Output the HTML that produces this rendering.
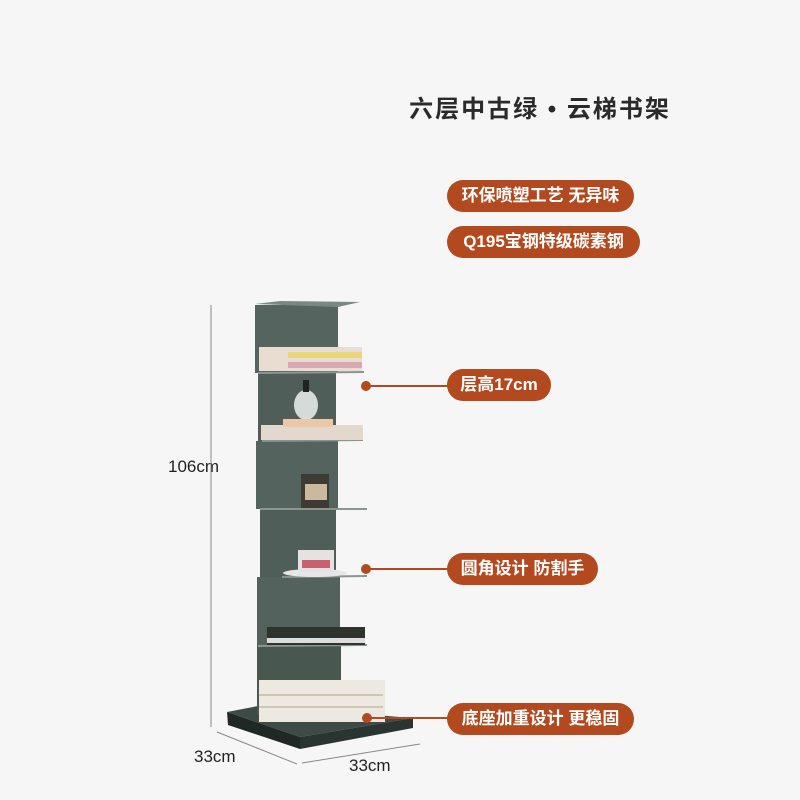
<!DOCTYPE html>
<html><head><meta charset="utf-8"><style>
html,body{margin:0;padding:0;background:#f6f6f6;}
body{width:800px;height:800px;position:relative;overflow:hidden;font-family:"Liberation Sans","Noto Sans CJK SC",sans-serif;}
.t{position:absolute;left:390px;top:89px;width:300px;text-align:center;font-size:24px;font-weight:bold;color:#2a2a2a;letter-spacing:2px;white-space:nowrap;}
.p{position:absolute;background:#b34a1f;color:#fff;border-radius:16px;height:32px;line-height:32px;font-size:17px;font-weight:bold;text-align:center;box-sizing:border-box;white-space:nowrap;}
.l{position:absolute;font-size:17px;color:#222;}
</style></head><body>
<div class="t">六层中古绿 • 云梯书架</div>
<div class="p" style="left:447px;top:180px;width:187px;">环保喷塑工艺 无异味</div>
<div class="p" style="left:447px;top:226px;width:193px;">Q195宝钢特级碳素钢</div>
<div class="p" style="left:447px;top:369px;width:104px;">层高17cm</div>
<div class="p" style="left:447px;top:553px;width:151px;">圆角设计 防割手</div>
<div class="p" style="left:447px;top:703px;width:187px;">底座加重设计 更稳固</div>
<div class="l" style="left:168px;top:457px;">106cm</div>
<div class="l" style="left:194px;top:747px;">33cm</div>
<div class="l" style="left:349px;top:756px;">33cm</div>
<svg width="800" height="800" style="position:absolute;left:0;top:0">
<line x1="211" y1="305" x2="211" y2="727" stroke="#888" stroke-width="1"/>
<line x1="217" y1="732" x2="297" y2="764" stroke="#888"/>
<line x1="302" y1="763" x2="420" y2="744" stroke="#888"/>
<polygon points="227,712 258,706 413,718 300,737" fill="#3d4a45"/>
<polygon points="227,712 300,737 300,749 228,725" fill="#1f2825"/>
<polygon points="300,737 413,718 413,728 300,749" fill="#2a3430"/>
<rect x="255" y="305" width="83" height="68" fill="#55645f"/>
<rect x="258" y="373" width="78" height="68" fill="#4f5e59"/>
<rect x="256" y="441" width="82" height="68" fill="#54635e"/>
<rect x="260" y="509" width="76" height="68" fill="#4f5e59"/>
<rect x="257" y="577" width="83" height="68" fill="#53625d"/>
<rect x="257" y="645" width="84" height="70" fill="#48574f"/>
<polygon points="255,304 280,301 360,302 338,307" fill="#7a8782"/>
<g stroke="#8a9590" stroke-width="2">
<line x1="258" y1="373" x2="364" y2="372"/>
<line x1="262" y1="441" x2="363" y2="440"/>
<line x1="260" y1="509" x2="367" y2="509"/>
<line x1="282" y1="577" x2="367" y2="576"/>
<line x1="258" y1="646" x2="367" y2="645"/>
</g>
<rect x="259" y="347" width="103" height="24" fill="#e8ddd0"/>
<rect x="288" y="352" width="74" height="6" fill="#e8d77a"/>
<rect x="288" y="362" width="74" height="6" fill="#d9a9b5"/>
<ellipse cx="306" cy="405" rx="12" ry="15" fill="#d5dbd8"/>
<rect x="303" y="380" width="6" height="12" fill="#222"/>
<rect x="261" y="425" width="102" height="15" fill="#e2d8cb"/>
<rect x="283" y="419" width="50" height="8" fill="#e8c8a8"/>
<rect x="301" y="474" width="28" height="34" fill="#3e3a34"/>
<rect x="305" y="484" width="22" height="16" fill="#cbb99f"/>
<ellipse cx="315" cy="573" rx="32" ry="4" fill="#e6e6e6"/>
<rect x="298" y="550" width="36" height="22" fill="#e7e2e2"/>
<rect x="302" y="560" width="28" height="8" fill="#c8606f"/>
<rect x="267" y="627" width="98" height="18" fill="#2e332d"/>
<rect x="267" y="638" width="98" height="5" fill="#ddd"/>
<rect x="259" y="680" width="126" height="42" fill="#eee9e0"/>
<rect x="259" y="694" width="124" height="2" fill="#cfc6b8"/>
<rect x="259" y="706" width="124" height="2" fill="#cfc6b8"/>
<g fill="#b34a1f" stroke="#b34a1f" stroke-width="2">
<line x1="366" y1="386" x2="448" y2="386"/><circle cx="366" cy="386" r="4"/>
<line x1="366" y1="569" x2="448" y2="569"/><circle cx="366" cy="569" r="4"/>
<line x1="367" y1="718" x2="448" y2="718"/><circle cx="367" cy="718" r="4"/>
</g>
</svg>
</body></html>
